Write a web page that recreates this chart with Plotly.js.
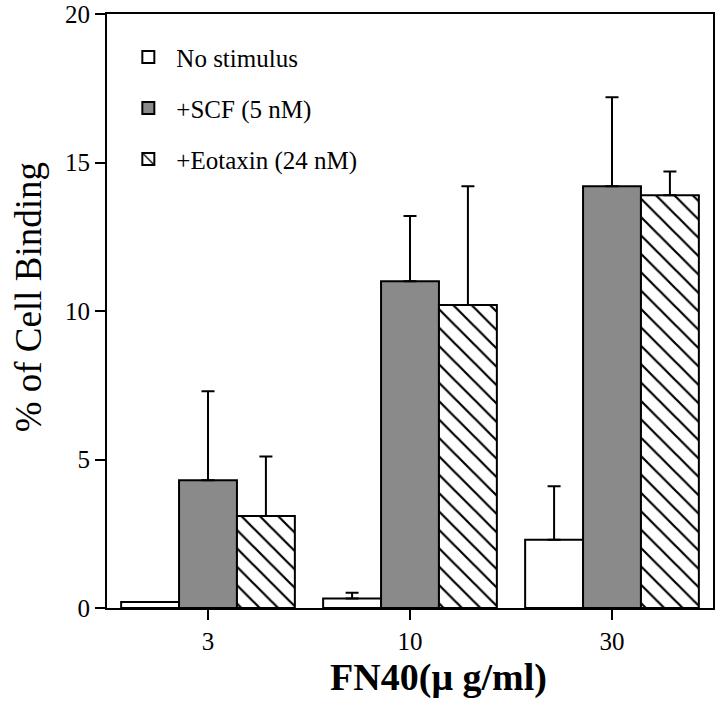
<!DOCTYPE html>
<html>
<head>
<meta charset="utf-8">
<script src="https://cdn.plot.ly/plotly-3.0.1.min.js"></script>
<style>html,body{margin:0;padding:0;background:#fff;}#chart{width:720px;height:704px;}</style>
</head>
<body>
<div id="chart"></div>
<script>
var categories = ["3", "10", "30"];
var seriesNames = ["No stimulus", "+SCF (5 nM)", "+Eotaxin (24 nM)"];
var noStimulus = [0.2, 0.32, 2.3];
var noStimulusErr = [0.0, 0.19, 1.8];
var scf = [4.3, 11.0, 14.2];
var scfErr = [3.0, 2.2, 3.0];
var eotaxin = [3.1, 10.2, 13.9];
var eotaxinErr = [2.0, 4.0, 0.8];
var yTicks = [0, 5, 10, 15, 20];

var FONT = "'Liberation Serif', 'Times New Roman', serif";

function errs(arr) {
  return {type: "data", symmetric: false, array: arr, arrayminus: arr.map(function(){return 0;}),
          color: "#000", thickness: 2, width: 6.5};
}

var traces = [
  {type: "bar", name: seriesNames[0], x: categories, y: noStimulus, error_y: errs(noStimulusErr),
   legendgroup: "a",
   marker: {color: "#ffffff", line: {color: "#000", width: 2}}},
  {type: "bar", name: seriesNames[1], x: categories, y: scf, error_y: errs(scfErr),
   legendgroup: "b",
   marker: {color: "#8a8a8a", line: {color: "#000", width: 2}}},
  {type: "bar", name: seriesNames[2], x: categories, y: eotaxin, error_y: errs(eotaxinErr),
   legendgroup: "c",
   marker: {color: "#ffffff", line: {color: "#000", width: 2},
            pattern: {shape: "\\", size: 13, solidity: 0.17, fgcolor: "#000", bgcolor: "#fff"}}}
];

var layout = {
  width: 720, height: 704,
  margin: {l: 107, r: 7, t: 14, b: 96},
  paper_bgcolor: "#fff", plot_bgcolor: "#fff",
  font: {family: FONT, color: "#000", size: 24},
  barmode: "group",
  bargap: 0.14,
  bargroupgap: 0,
  showlegend: true,
  legend: {x: 0.022, y: 0.966, xanchor: "left", yanchor: "top",
           font: {family: FONT, size: 25, color: "#000"},
           bgcolor: "rgba(0,0,0,0)", traceorder: "grouped", tracegroupgap: 15.5,
           itemwidth: 46},
  xaxis: {type: "category", range: [-0.5, 2.5],
          showline: true, linecolor: "#000", linewidth: 2, mirror: true,
          ticks: "outside", ticklen: 10, tickwidth: 2, tickcolor: "#000",
          tickfont: {family: FONT, size: 25, color: "#000"},
          ticklabeloverflow: "allow",
          showgrid: false, zeroline: false,
          title: {text: "<b>&nbsp;&nbsp;&nbsp;&nbsp;&nbsp;&nbsp;FN40(\u03bc g/ml)</b>", font: {family: FONT, size: 38}, standoff: 9}},
  yaxis: {range: [0, 20], tickvals: yTicks, ticktext: yTicks.map(String),
          showline: true, linecolor: "#000", linewidth: 2, mirror: true,
          ticks: "outside", ticklen: 10, tickwidth: 2, tickcolor: "#000",
          tickfont: {family: FONT, size: 25, color: "#000"},
          ticklabeloverflow: "allow",
          showgrid: false, zeroline: false,
          title: {text: "&nbsp;&nbsp;&nbsp;% of Cell Binding", font: {family: FONT, size: 37}, standoff: 12}}
};

Plotly.newPlot("chart", traces, layout, {displayModeBar: false, staticPlot: true});
</script>
</body>
</html>
